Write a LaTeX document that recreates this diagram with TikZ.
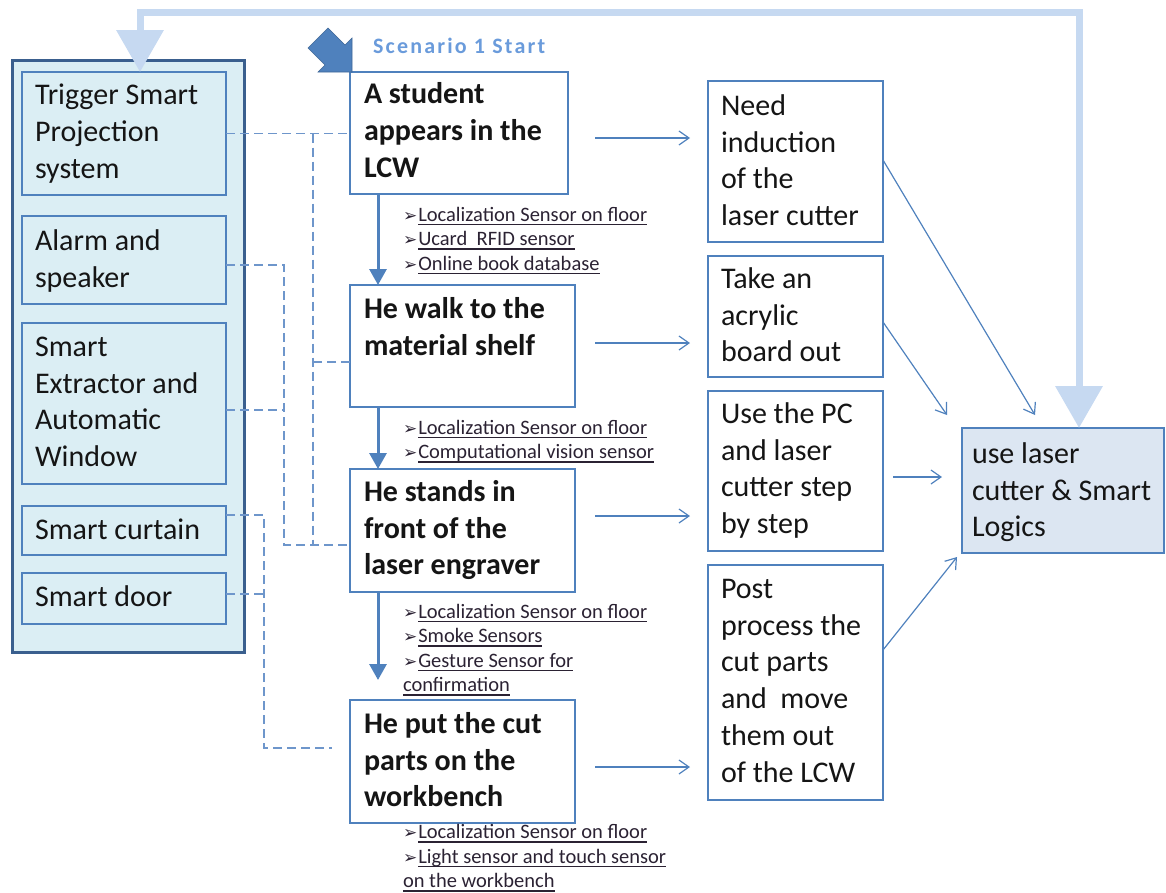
\documentclass[tikz,border=0pt]{standalone}
\usepackage{fontspec}
\setmainfont{Carlito}
\newfontfamily\dejavu{DejaVu Sans}
\usetikzlibrary{arrows.meta}

\definecolor{boxblue}{HTML}{4F81BD}
\definecolor{darkframe}{HTML}{3A5F8E}
\definecolor{panelfill}{HTML}{DBEEF4}
\definecolor{goalfill}{HTML}{DCE6F2}
\definecolor{loopblue}{HTML}{C6D9F1}
\definecolor{dashblue}{HTML}{6E96CB}
\definecolor{starttext}{HTML}{6A9BDB}
\definecolor{ink}{HTML}{151515}
\definecolor{senseink}{HTML}{2B2233}

% underlined text with a fixed rule below the baseline
\newlength{\senseulwd}
\newcommand{\senseul}[1]{\settowidth{\senseulwd}{#1}\rlap{\rule[-4.2pt]{\senseulwd}{1.7pt}}#1}
% one sensor entry: arrowhead bullet plus underlined text
\newcommand{\sensoritem}[1]{{\dejavu\fontsize{17}{17}\selectfont ➢}\hspace{1pt}\senseul{#1}}

\begin{document}
\begin{tikzpicture}[x=1pt,y=-1pt,
  every node/.style={outer sep=0pt},
  panel/.style={draw=darkframe, line width=3pt, fill=panelfill, anchor=north west, inner sep=0pt},
  sidebox/.style={draw=boxblue, line width=1.3pt, fill=panelfill, anchor=north west, inner sep=0pt},
  stepbox/.style={draw=boxblue, line width=1.3pt, fill=white, anchor=north west, inner sep=0pt},
  goalbox/.style={draw=boxblue, line width=1.3pt, fill=goalfill, anchor=north west, inner sep=0pt},
  txt/.style={anchor=north west, inner sep=0pt, align=left, text=ink, font=\fontsize{30}{36.7}\selectfont},
  btxt/.style={txt, font=\fontsize{30}{36.7}\selectfont\bfseries},
  senselist/.style={anchor=north west, inner sep=0pt, align=left, text=senseink, font=\fontsize{20.5}{24.5}\selectfont},
  flowarrow/.style={draw=boxblue, line width=3pt, -{Triangle[length=16pt,width=17pt]}},
  harrow/.style={draw=boxblue, line width=1.2pt, -{Straight Barb[length=10pt,width=14pt]}},
  dashlink/.style={draw=dashblue, line width=1.5pt, dash pattern=on 9pt off 5pt},
  loopline/.style={draw=loopblue, line width=7pt,
    {Triangle[length=42pt,width=46pt]}-{Triangle[length=42pt,width=46pt]}},
]
\useasboundingbox (0,0) rectangle (1166,892);

% left panel of smart devices
\node[panel, minimum width=232pt, minimum height=592pt] (panel) at (12,60) {};
\node[sidebox, minimum width=204pt, minimum height=123pt] (trig) at (22,72) {};
\node[sidebox, minimum width=204pt, minimum height=88pt] (alarm) at (22,216) {};
\node[sidebox, minimum width=204pt, minimum height=161pt] (extr) at (22,323) {};
\node[sidebox, minimum width=204pt, minimum height=49pt] (curt) at (22,506) {};
\node[sidebox, minimum width=204pt, minimum height=51pt] (door) at (22,573) {};

\node[txt] (trig-t) at (35,79.3) {\strut Trigger Smart\\Projection\\system};
\node[txt] (alarm-t) at (35,224.8) {\strut Alarm and\\speaker};
\node[txt] (extr-t) at (35,330.8) {\strut Smart\\Extractor and\\Automatic\\Window};
\node[txt] (curt-t) at (35,513.8) {\strut Smart curtain};
\node[txt] (door-t) at (35,580.8) {\strut Smart door};

% scenario steps
\node[stepbox, minimum width=218pt, minimum height=122pt] (a) at (350,72) {};
\node[stepbox, minimum width=225pt, minimum height=122pt] (b) at (350,285) {};
\node[stepbox, minimum width=225pt, minimum height=123pt] (c) at (350,469) {};
\node[stepbox, minimum width=225pt, minimum height=123pt] (d) at (350,700) {};

\node[btxt] (a-t) at (364,78.3) {\strut A student\\appears in the\\LCW};
\node[btxt] (b-t) at (364,292.8) {\strut He walk to the\\material shelf};
\node[btxt] (c-t) at (364,475.8) {\strut He stands in\\front of the\\laser engraver};
\node[btxt] (d-t) at (364,707.8) {\strut He put the cut\\parts on the\\workbench};

% start marker
\fill[boxblue, draw=boxblue!80!black, line width=0.6pt]
  (328,28) -- (345,45) -- (352,38) -- (352,72) -- (318,72) -- (325,65) -- (308,48) -- cycle;
\node[anchor=base west, inner sep=0pt, text=starttext,
  font=\fontsize{22}{26}\selectfont\bfseries\addfontfeatures{LetterSpace=10}] (start) at (373,53) {Scenario 1 Start};

% sensors used between steps
\node[senselist] (s1) at (403,203.9) {\strut\sensoritem{Localization Sensor on floor}\\
  \sensoritem{Ucard\ \ RFID sensor}\\ \sensoritem{Online book database}};
\node[senselist] (s2) at (403,416.9) {\strut\sensoritem{Localization Sensor on floor}\\
  \sensoritem{Computational vision sensor}};
\node[senselist] (s3) at (403,600.9) {\strut\sensoritem{Localization Sensor on floor}\\
  \sensoritem{Smoke Sensors}\\ \sensoritem{Gesture Sensor for}\\ \senseul{confirmation}};
\node[senselist] (s4) at (403,821.4) {\strut\sensoritem{Localization Sensor on floor}\\
  \sensoritem{Light sensor and touch sensor}\\ \senseul{on the workbench}};

% tasks
\node[stepbox, minimum width=175pt, minimum height=161pt] (e) at (708,81) {};
\node[stepbox, minimum width=175pt, minimum height=121pt] (f) at (708,256) {};
\node[stepbox, minimum width=175pt, minimum height=160pt] (g) at (708,391) {};
\node[stepbox, minimum width=175pt, minimum height=235pt] (h) at (708,565) {};

\node[txt] (e-t) at (721,89.8) {\strut Need\\induction\\of the\\laser cutter};
\node[txt] (f-t) at (721,262.8) {\strut Take an\\acrylic\\board out};
\node[txt] (g-t) at (721,397.8) {\strut Use the PC\\and laser\\cutter step\\by step};
\node[txt] (h-t) at (721,572.8) {\strut Post\\process the\\cut parts\\and\ \ move\\them out\\of the LCW};

% goal
\node[goalbox, minimum width=202pt, minimum height=125pt] (i) at (962,428) {};
\node[txt] (i-t) at (972,437.8) {\strut use laser\\cutter \& Smart\\Logics};

% feedback loop
\draw[loopline] (i.north -| 1079,0) -- (1079,12) -- (140,12) -- (trig.north -| 140,0);

% flow between steps
\draw[flowarrow] (a.south -| 378,0) -- (b.north -| 378,0);
\draw[flowarrow] (b.south -| 378,0) -- (c.north -| 378,0);
\draw[flowarrow, shorten >=20pt] (c.south -| 378,0) -- (d.north -| 378,0);

% steps to tasks
\draw[harrow, shorten <=27pt, shorten >=18pt] (a.east |- 0,138) -- (e.west |- 0,138);
\draw[harrow, shorten <=20pt, shorten >=18pt] (b.east |- 0,343) -- (f.west |- 0,343);
\draw[harrow, shorten <=20pt, shorten >=18pt] (c.east |- 0,516) -- (g.west |- 0,516);
\draw[harrow, shorten <=20pt, shorten >=18pt] (d.east |- 0,767) -- (h.west |- 0,767);

% tasks to goal
\draw[harrow] (e.east |- 0,160) -- ([shift={(73pt,13pt)}]i.north west);
\draw[harrow] (f.east |- 0,322) -- ([shift={(-15pt,13pt)}]i.north west);
\draw[harrow, shorten <=10pt, shorten >=20pt] (g.east |- 0,477) -- (i.west |- 0,477);
\draw[harrow] (h.east |- 0,650) -- ([shift={(-5pt,-4pt)}]i.south west);

% device links
\coordinate (busA) at (313,133.5);
\coordinate (busAend) at (313,545);
\coordinate (bj) at (313,362);
\coordinate (dend) at (332,748);
\draw[dashlink] (trig.east) -- (trig.east -| a.west);
\draw[dashlink] (busA) -- (busAend);
\draw[dashlink] (b.west |- bj) -- (bj);
\draw[dashlink] (alarm.east |- 0,265) -- (284,265) -- (284,545) -- (c.west |- 0,545);
\draw[dashlink] (extr.east |- 0,410) -- (284,410);
\draw[dashlink] (curt.east |- 0,515) -- (264,515) -- (264,748) -- (dend);
\draw[dashlink] (door.east |- 0,594) -- (264,594);
\end{tikzpicture}
\end{document}
